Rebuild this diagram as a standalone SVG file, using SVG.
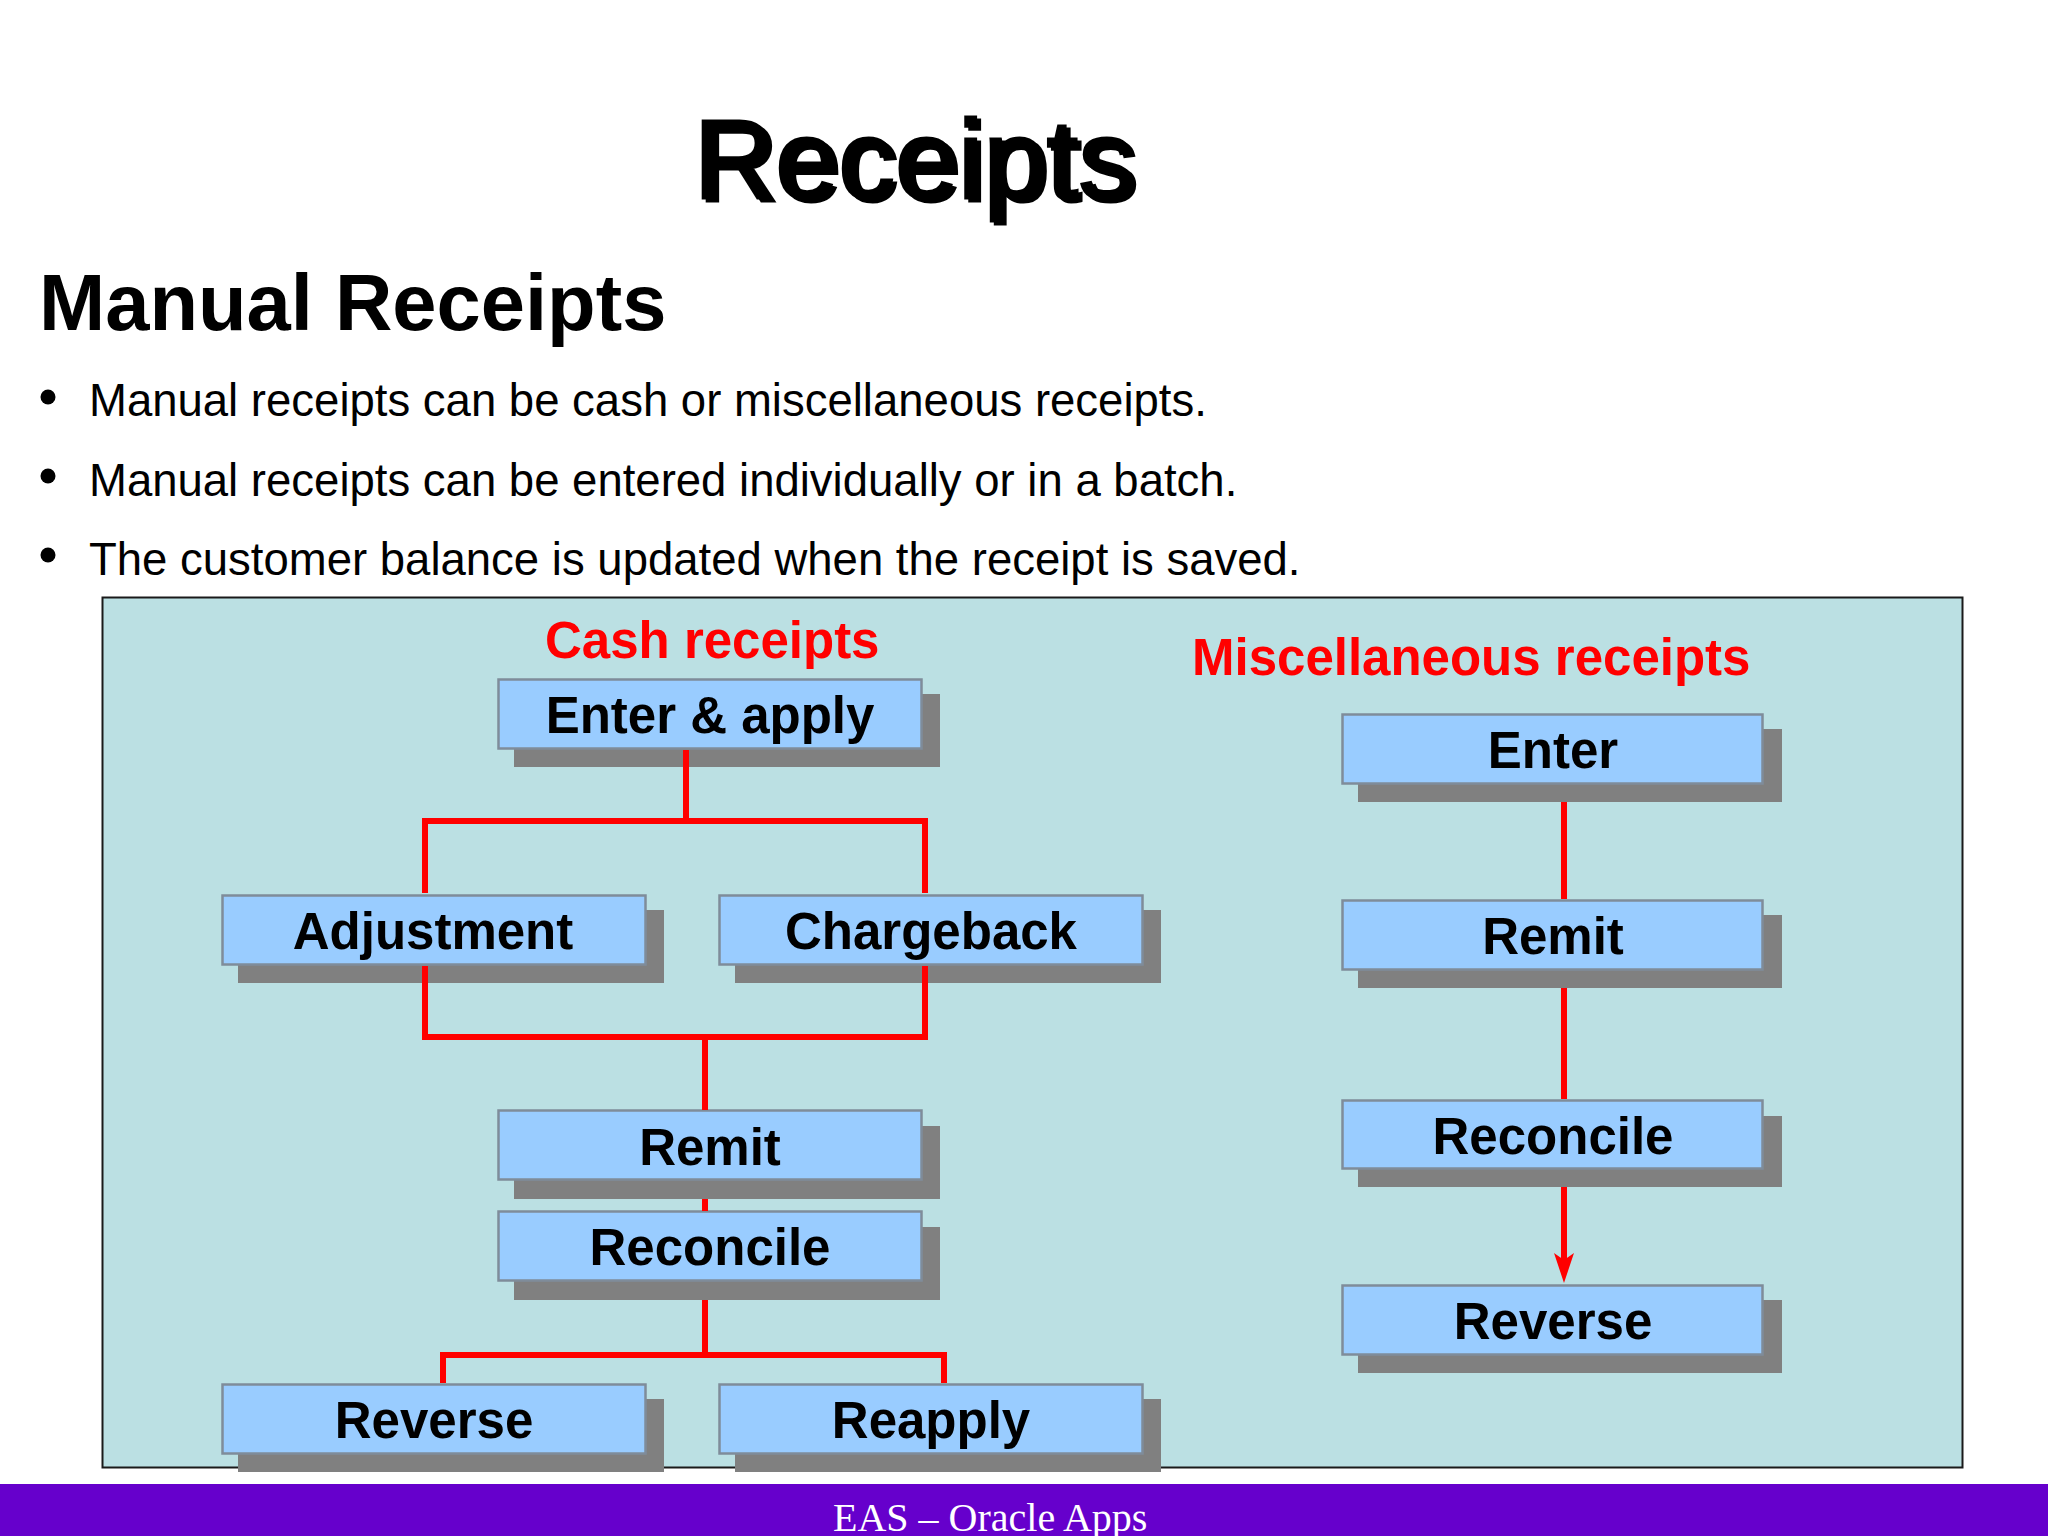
<svg xmlns="http://www.w3.org/2000/svg" width="2048" height="1536" viewBox="0 0 2048 1536">
<style>
text{font-family:"Liberation Sans",Arial,sans-serif}
.sh{fill:#808080}
.bx{fill:#99CCFF;stroke:#7F8C9A;stroke-width:2.500}
.lb{font-size:51px;font-weight:700;fill:#000;text-anchor:middle}
.rd{font-size:51px;font-weight:700;fill:#FF0000}
.bl{font-size:45.500px;fill:#000}
.cn{fill:none;stroke:#FF0000;stroke-width:6}
.tt{font-size:112px;fill:#000;stroke:#000;stroke-width:3;letter-spacing:.7px}
</style>
<rect width="2048" height="1536" fill="#fff"/>
<g id="title">
<text class="tt" x="698" y="201">Receipts</text>
<text class="tt" x="694" y="198">Receipts</text>
</g>
<text x="39" y="330" font-size="79.500" font-weight="700" fill="#000">Manual Receipts</text>
<g id="bullets">
<circle cx="48" cy="397" r="7.500"/><text class="bl" x="89" y="416">Manual receipts can be cash or miscellaneous receipts.</text>
<circle cx="48" cy="476" r="7.500"/><text class="bl" x="89" y="496">Manual receipts can be entered individually or in a batch.</text>
<circle cx="48" cy="555" r="7.500"/><text class="bl" x="89" y="575">The customer balance is updated when the receipt is saved.</text>
</g>
<rect id="panel" x="102.500" y="597.500" width="1860" height="870" fill="#BBE0E3" stroke="#1a1a1a" stroke-width="2"/>
<text class="rd" x="545" y="658">Cash receipts</text>
<text class="rd" x="1192" y="675">Miscellaneous receipts</text>
<g id="n-enter-apply"><rect class="sh" x="514" y="694" width="426" height="73"/><rect class="bx" x="498.500" y="679.500" width="423" height="69"/><text class="lb" x="710" y="733">Enter &amp; apply</text></g>
<g id="n-adjustment"><rect class="sh" x="238" y="910" width="426" height="73"/><rect class="bx" x="222.500" y="895.500" width="423" height="69"/><text class="lb" x="433" y="949">Adjustment</text></g>
<g id="n-chargeback"><rect class="sh" x="735" y="910" width="426" height="73"/><rect class="bx" x="719.500" y="895.500" width="423" height="69"/><text class="lb" x="931" y="949">Chargeback</text></g>
<g id="n-remit-a"><rect class="sh" x="514" y="1126" width="426" height="73"/><rect class="bx" x="498.500" y="1110.500" width="423" height="69"/><text class="lb" x="710" y="1165">Remit</text></g>
<g id="n-reconcile-a"><rect class="sh" x="514" y="1227" width="426" height="73"/><rect class="bx" x="498.500" y="1211.500" width="423" height="69"/><text class="lb" x="710" y="1265">Reconcile</text></g>
<g id="n-reverse-a"><rect class="sh" x="238" y="1399" width="426" height="73"/><rect class="bx" x="222.500" y="1384.500" width="423" height="69"/><text class="lb" x="434" y="1438">Reverse</text></g>
<g id="n-reapply"><rect class="sh" x="735" y="1399" width="426" height="73"/><rect class="bx" x="719.500" y="1384.500" width="423" height="69"/><text class="lb" x="931" y="1438">Reapply</text></g>
<g id="n-enter"><rect class="sh" x="1358" y="729" width="424" height="73"/><rect class="bx" x="1342.500" y="714.500" width="420" height="69"/><text class="lb" x="1553" y="768">Enter</text></g>
<g id="n-remit-b"><rect class="sh" x="1358" y="915" width="424" height="73"/><rect class="bx" x="1342.500" y="900.500" width="420" height="69"/><text class="lb" x="1553" y="954">Remit</text></g>
<g id="n-reconcile-b"><rect class="sh" x="1358" y="1116" width="424" height="71"/><rect class="bx" x="1342.500" y="1100.500" width="420" height="68"/><text class="lb" x="1553" y="1154">Reconcile</text></g>
<g id="n-reverse-b"><rect class="sh" x="1358" y="1300" width="424" height="73"/><rect class="bx" x="1342.500" y="1285.500" width="420" height="69"/><text class="lb" x="1553" y="1339">Reverse</text></g>
<g id="connectors">
<path class="cn" d="M686 750V821"/>
<path class="cn" d="M425 893V821H925V893"/>
<path class="cn" d="M425 966V1037H925V966"/>
<path class="cn" d="M705 1037V1110"/>
<path class="cn" d="M705 1199V1211"/>
<path class="cn" d="M705 1300V1355"/>
<path class="cn" d="M443 1383V1355H944V1383"/>
<path class="cn" d="M1564 802V899"/>
<path class="cn" d="M1564 988V1099"/>
<path class="cn" d="M1564 1187V1262"/>
<path d="M1554 1253L1564 1260L1574 1253L1564 1283Z" fill="#FF0000"/>
</g>
<g id="footer">
<rect x="0" y="1484" width="2048" height="52" fill="#6600CC"/>
<text x="833" y="1531" font-size="40" fill="#fff" style="font-family:'Liberation Serif','Times New Roman',serif">EAS – Oracle Apps</text>
</g>
</svg>
